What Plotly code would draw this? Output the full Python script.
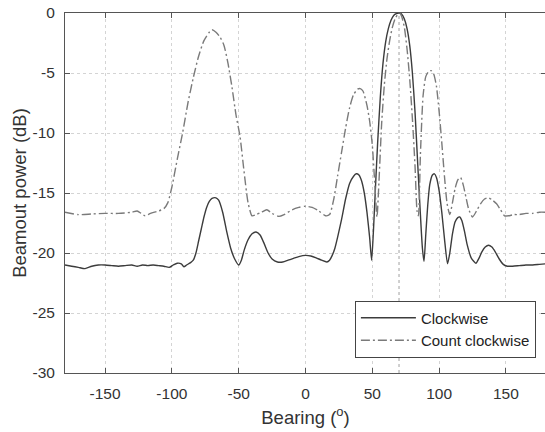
import plotly.graph_objects as go

# Bearing (deg) and beam-output power (dB)
cw_bearing = [-180, -175, -170, -165, -160, -155, -150, -145, -140, -135, -130, -126, -122, -118, -114,
              -110, -106, -102, -99, -96, -93, -91, -89, -86, -84, -82, -80, -78, -76, -74, -72, -70,
              -67, -65, -62, -59, -56, -53, -50, -48, -46, -43, -40, -37, -34, -31, -28, -25, -21,
              -17, -13, -9, -5, 0, 4, 8, 12, 16, 18, 20, 22, 24, 27, 30, 33, 36, 38, 40, 42, 44, 46,
              48, 49.5, 51, 52.5, 54, 56, 58, 60, 62, 64, 66, 68, 70, 72, 74, 76, 78, 80, 82, 84, 86,
              87.5, 88.7, 90, 91.5, 93, 95, 96.5, 98, 100, 102, 104, 106.3, 108, 110, 112, 114, 115.5,
              117, 119, 121, 124, 127.5, 130, 132, 134.5, 137, 139.5, 142, 145, 148, 151, 155, 160,
              165, 170, 175, 180]
cw_power = [-21.0, -21.1, -21.2, -21.3, -21.1, -21.0, -21.0, -21.05, -21.1, -21.05, -21.0, -21.1, -21.0,
            -21.05, -21.0, -21.05, -21.1, -21.2, -21.0, -20.85, -20.9, -21.15, -21.0, -20.8, -20.6,
            -20.0, -19.0, -18.0, -17.0, -16.2, -15.7, -15.45, -15.4, -15.6, -16.6, -18.2, -19.6,
            -20.5, -21.0, -20.6, -19.8, -18.9, -18.4, -18.25, -18.5, -19.2, -20.0, -20.5, -20.75,
            -20.75, -20.6, -20.45, -20.3, -20.2, -20.25, -20.4, -20.6, -20.75, -20.6, -20.2, -19.6,
            -18.7, -17.2, -15.5, -14.2, -13.6, -13.4, -13.5, -14.0, -15.0, -16.6, -18.7, -20.6,
            -17.8, -14.2, -10.8, -7.0, -4.2, -2.4, -1.3, -0.6, -0.2, -0.05, 0.0, -0.1, -0.5, -1.3,
            -2.7, -5.0, -8.3, -12.6, -16.8, -19.6, -20.7, -18.5, -16.0, -14.3, -13.5, -13.4, -13.7,
            -14.8, -16.6, -18.8, -20.9, -20.0, -18.4, -17.4, -17.05, -17.0, -17.3, -18.2, -19.3,
            -20.4, -20.85, -20.4, -19.9, -19.5, -19.35, -19.5, -19.9, -20.5, -20.95, -21.1, -21.1,
            -21.05, -21.0, -21.0, -20.95, -20.9]

ccw_bearing = [-180, -170, -160, -150, -140, -130, -126, -123, -120, -116, -110, -106, -103, -100, -96,
               -92, -88, -84, -80, -76, -72, -70, -67, -64, -61, -58, -55, -52, -49, -46, -43, -40,
               -37, -33, -29, -25, -20, -16, -10, -5, 0, 5, 10, 15, 18, 21, 24, 27, 30, 33, 36, 39,
               41, 43, 46, 48, 50, 52, 53.5, 55, 57, 59, 61, 63, 65, 67, 69, 70.5, 72, 74, 76, 78,
               80, 82, 83.5, 84.5, 86, 88, 90, 92, 94, 96, 98, 100, 102, 104, 106, 108, 110, 112, 114,
               116, 118, 120, 122, 125, 128, 131, 134, 137, 140, 143, 146, 149, 152, 156, 160, 165,
               170, 175, 180]
ccw_power = [-16.6, -16.8, -16.75, -16.7, -16.7, -16.6, -16.5, -16.7, -16.9, -16.7, -16.5, -16.3, -15.8,
             -14.5, -12.2, -10.0, -7.5, -5.4, -3.6, -2.3, -1.6, -1.4, -1.6, -2.0, -2.7, -4.2, -6.2,
             -8.5, -10.3, -13.2, -15.8, -16.9, -16.8, -16.6, -16.4, -16.7, -16.95, -16.8, -16.4,
             -16.2, -16.1, -16.2, -16.5, -16.9, -16.8, -15.6, -13.6, -11.6, -9.6, -7.9, -6.8, -6.35,
             -6.3, -6.5, -7.7, -9.0, -11.0, -14.5, -17.0, -14.0, -9.2, -6.0, -3.8, -2.3, -1.2, -0.5,
             -0.1, 0.0, -0.3, -1.2, -3.0, -5.5, -8.8, -12.8, -16.5, -16.9, -11.8, -6.9, -5.3, -4.9,
             -4.8, -5.1, -6.1, -8.2, -10.8, -13.6, -15.9, -16.8, -15.8, -14.6, -13.9, -13.7, -14.3,
             -15.3, -16.3, -17.0, -16.5, -15.9, -15.5, -15.4, -15.6, -15.9, -16.4, -16.9, -16.9,
             -16.8, -16.8, -16.7, -16.7, -16.6, -16.6]

target_bearing = 70
x_ticks = [-150, -100, -50, 0, 50, 100, 150]
x_tick_labels = ["-150", "-100", "-50", "0", "50", "100", "150"]
y_ticks = [0, -5, -10, -15, -20, -25, -30]
y_tick_labels = ["0", "-5", "-10", "-15", "-20", "-25", "-30"]

FONT = "Liberation Sans, Arial, sans-serif"
TXT = "#333333"

fig = go.Figure()
fig.add_trace(go.Scatter(x=cw_bearing, y=cw_power, mode="lines", name="Clockwise",
                         line=dict(color="#3c3c3c", width=1.4, shape="spline", smoothing=0.6)))
fig.add_trace(go.Scatter(x=ccw_bearing, y=ccw_power, mode="lines", name="Count clockwise",
                         line=dict(color="#7a7a7a", width=1.4, dash="9px,3px,2px,3px",
                                   shape="spline", smoothing=0.6)))
fig.add_vline(x=target_bearing, line=dict(color="#a0a0a0", width=1, dash="dot"))

axis_common = dict(showline=True, linecolor="#555555", linewidth=1, mirror="ticks",
                   ticks="inside", ticklen=5, tickcolor="#555555", tickwidth=1,
                   showgrid=True, gridcolor="#d4d4d4", griddash="dot", gridwidth=1,
                   zeroline=False, automargin=False,
                   tickfont=dict(family=FONT, size=15.5, color=TXT))

fig.update_xaxes(range=[-180, 180], tickvals=x_ticks, ticktext=x_tick_labels, ticklabelstandoff=6,
                 title=dict(text="Bearing (<sup>o</sup>)", font=dict(family=FONT, size=18.5, color=TXT),
                            standoff=10),
                 **axis_common)
fig.update_yaxes(range=[-30, 0], tickvals=y_ticks, ticktext=y_tick_labels, ticklabelstandoff=6,
                 title=dict(text="Beamout power (dB)", font=dict(family=FONT, size=18.5, color=TXT),
                            standoff=1),
                 **axis_common)

fig.update_layout(
    width=546, height=432,
    margin=dict(l=65, r=0, t=13, b=59, autoexpand=False),
    paper_bgcolor="white", plot_bgcolor="white",
    font=dict(family=FONT, color=TXT),
    legend=dict(x=0.979, y=0.043, xanchor="right", yanchor="bottom",
                bgcolor="white", bordercolor="#444444", borderwidth=1,
                font=dict(family=FONT, size=15, color="#222222"),
                tracegroupgap=0, itemwidth=55),
    showlegend=True,
)

# remove the default page margin so the figure starts at the window's corner
fig.write_html("out.html", config={"displayModeBar": False, "staticPlot": True},
               post_script="document.body.style.margin='0';document.body.style.overflow='hidden';")
